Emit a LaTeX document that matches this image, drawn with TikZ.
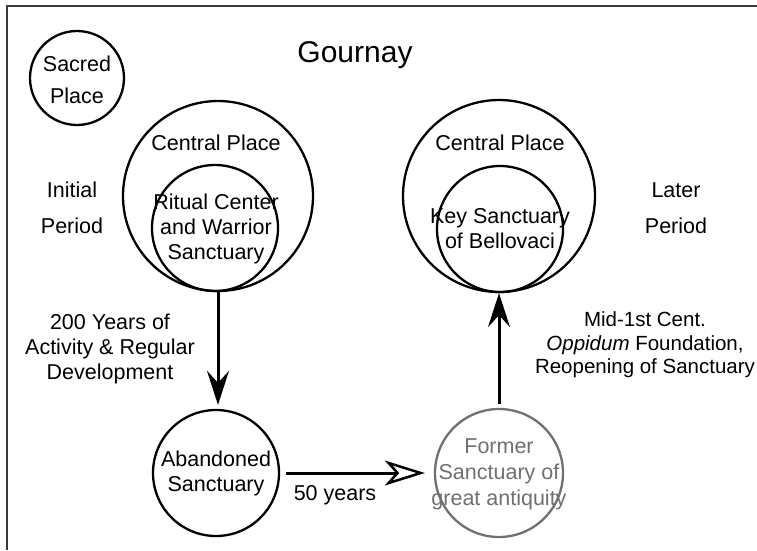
\documentclass[tikz,border=0pt]{standalone}
\usepackage{fontspec}
\setmainfont{Liberation Sans}
\usetikzlibrary{arrows.meta}
\definecolor{fadegray}{HTML}{707070}
\definecolor{framegray}{HTML}{3A3A3A}
\tikzset{
  ring/.style={circle,draw,line width=2.3pt,inner sep=0pt},
  txt/.style={align=center,inner sep=0pt,font=\fontsize{21.5}{25}\selectfont},
  flow/.style={line width=3pt,-{Stealth[length=34pt,width=22pt,inset=12pt]}},
  openflow/.style={line width=3pt,-{Stealth[open,length=40pt,width=25pt,inset=11pt,line width=2.5pt]}},
}
\begin{document}
\begin{tikzpicture}[x=1pt,y=-1pt]
\useasboundingbox (0,0) rectangle (757,550);
\fill[white] (0,0) rectangle (757,550);
\draw[framegray,line width=2pt] (6.5,550) -- (6.5,5.5) -- (757,5.5);

\node[txt,font=\fontsize{30}{34}\selectfont] (title) at (355,55) {Gournay};
\node[ring,minimum size=94pt] (sacred) at (77,78) {};
\node[txt,font=\fontsize{21.5}{32}\selectfont] (sacredtxt) at (77,80) {Sacred\\Place};

\node[ring,minimum size=190pt] (outerL) at (218,196) {};
\node[ring,minimum size=126pt] (innerL) at (215,228) {};
\node[txt] (innerLtxt) at (216,229) {Ritual Center\\and Warrior\\Sanctuary};
\node[txt] (cpL) at (216,143) {Central Place};

\node[ring,minimum size=192pt] (outerR) at (499,196) {};
\node[ring,minimum size=126pt] (innerR) at (500,229) {};
\node[txt] (innerRtxt) at (500,229) {Key Sanctuary\\of Bellovaci};
\node[txt] (cpR) at (500,143) {Central Place};

\node[txt] (initial) at (72,208) {Initial\\[11pt]Period};
\node[txt] (later) at (676,208) {Later\\[11pt]Period};

\node[ring,minimum size=126pt] (aband) at (216,473) {};
\node[txt] (abandtxt) at (216,473) {Abandoned\\Sanctuary};
\node[ring,draw=fadegray,minimum size=128pt] (former) at (499,473) {};
\node[txt,text=fadegray,font=\fontsize{21.5}{26}\selectfont] (formertxt) at (499,474) {Former\\Sanctuary of\\great antiquity};

\node[txt] (lbl200) at (110,349) {200 Years of\\Activity \& Regular\\Development};
\node[txt] (lbl50) at (335,495) {50 years};
\node[txt,font=\fontsize{20.5}{23.5}\selectfont] (lblmid) at (645,345) {Mid-1st Cent.\\\textit{Oppidum} Foundation,\\Reopening of Sanctuary};

\draw[flow,shorten >=4pt] (outerL.south) -- (outerL.south |- aband.north);
\draw[flow,shorten <=4pt] (former.north) -- (outerR.south);
\draw[openflow,shorten <=6pt,shorten >=9pt] (aband.east) -- (aband.east -| former.west);
\end{tikzpicture}
\end{document}
